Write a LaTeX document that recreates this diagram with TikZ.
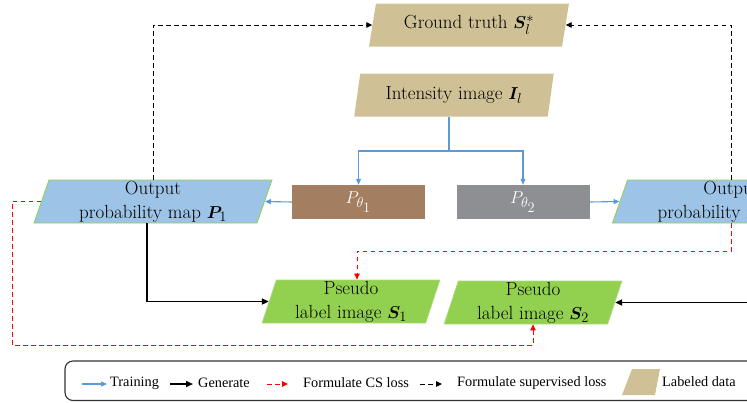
\documentclass[tikz,border=0pt]{standalone}
\usepackage{bm}
\usepackage{fontspec}
\newfontfamily\legendfont{Liberation Serif}
\usetikzlibrary{arrows.meta,shapes.geometric}

\definecolor{labeltan}{RGB}{207,193,149}
\definecolor{netbrown}{RGB}{163,126,97}
\definecolor{netgray}{RGB}{142,143,147}
\definecolor{probblue}{RGB}{157,195,230}
\definecolor{pseudogreen}{RGB}{146,208,80}
\definecolor{pseudoedge}{RGB}{172,218,120}
\definecolor{trainblue}{RGB}{91,155,213}

\tikzset{
  para/.style={shape=trapezium, trapezium left angle=75.5, trapezium right angle=104.5,
    trapezium stretches=true, inner sep=0pt, align=center,
    font=\fontsize{19}{24}\selectfont},
  datanode/.style={para, fill=labeltan, minimum width=200pt, minimum height=43pt},
  probnode/.style={para, fill=probblue, draw=pseudogreen, line width=0.8pt,
    minimum width=238pt, minimum height=43pt},
  pseudonode/.style={para, fill=pseudogreen, draw=pseudoedge, line width=0.8pt,
    minimum width=178pt, minimum height=43pt},
  netnode/.style={rectangle, inner sep=0pt, minimum width=133pt, minimum height=34pt,
    text=white, font=\fontsize{19}{22}\selectfont},
  train/.style={draw=trainblue, line width=1.1pt, -{Triangle[length=6pt,width=5pt]}},
  generate/.style={draw=black, line width=1.8pt, -{Triangle[length=7pt,width=6pt]}},
  csloss/.style={draw=red, line width=0.9pt, dash pattern=on 4.5pt off 3.5pt,
    -{Triangle[length=6pt,width=5.5pt]}},
  suploss/.style={draw=black, line width=0.9pt, dash pattern=on 4.5pt off 3.5pt,
    -{Triangle[length=6pt,width=5.5pt]}},
  legendtext/.style={anchor=west, inner sep=0pt, font=\legendfont\fontsize{14.3}{16}\selectfont},
}

\begin{document}
\begin{tikzpicture}[x=1pt, y=-1pt]
\useasboundingbox (0,0) rectangle (747,402);

% data and network nodes
\node[datanode] (gt)  at (469,25)  {Ground truth $\bm{S}_l^*$};
\node[datanode] (int) at (454,95)  {Intensity image $\bm{I}_l$};
\node[netnode, fill=netbrown] (net1) at (358.5,202) {$P_{\scriptstyle\theta_{\scriptstyle 1}}$};
\node[netnode, fill=netgray]  (net2) at (523,202)   {$P_{\scriptstyle\theta_{\scriptstyle 2}}$};
\node[probnode] (p1) at (153,201.5) {Output\\probability map $\bm{P}_1$};
\node[probnode] (p2) at (731.5,201.5) {Output\\probability map $\bm{P}_2$};
\node[pseudonode] (s1) at (351,301.5) {Pseudo\\label image $\bm{S}_1$};
\node[pseudonode] (s2) at (533,302.5) {Pseudo\\label image $\bm{S}_2$};

% training: image fed to both networks, networks produce probability maps
\coordinate (split) at (449,151);
\draw[draw=trainblue, line width=1.1pt] (int.south -| split) -- (split);
\draw[train] (split) -| (net1.north);
\draw[train] (split) -| (net2.north);
\draw[train] (net1.west) -- (p1.east);
\draw[train] (net2.east) -- (p2.west);

% generate pseudo labels
\draw[generate] ([xshift=-6pt]p1.south) |- (s1.west);
\draw[generate] (p2.south -| 800,0) |- (s2.east);

% cross supervision loss
\coordinate (csa) at (12,345);
\coordinate (csb) at (357,251);
\draw[csloss] (p1.west) -| (csa) -| (s2.south);
\draw[csloss] (p2.south) |- (csb) -- (csb |- s1.north);

% supervised loss
\draw[suploss] (p1.north) |- (gt.west);
\draw[suploss] (p2.north) |- (gt.east);

% legend
\draw[black!80, line width=1.1pt, rounded corners=8pt] (65,361) rectangle (820,400.5);
\coordinate (lg1) at (82,384);
\draw[train] (lg1) -- ++(25,0);
\node[legendtext] (lt1) at (110,383) {Training};
\coordinate (lg2) at (170,384);
\draw[generate, line width=1.6pt] (lg2) -- ++(23,0);
\node[legendtext] (lt2) at (198,383) {Generate};
\coordinate (lg3) at (267,384);
\draw[csloss] (lg3) -- ++(21,0);
\node[legendtext] (lt3) at (303,383) {Formulate CS loss};
\coordinate (lg4) at (420,384);
\draw[suploss] (lg4) -- ++(22,0);
\node[legendtext] (lt4) at (457,383) {Formulate supervised loss};
\fill[labeltan] (622,395) -- (632,369) -- (660,369) -- (655,395) -- cycle;
\node[legendtext] (lt5) at (662,382) {Labeled data};
\end{tikzpicture}
\end{document}
